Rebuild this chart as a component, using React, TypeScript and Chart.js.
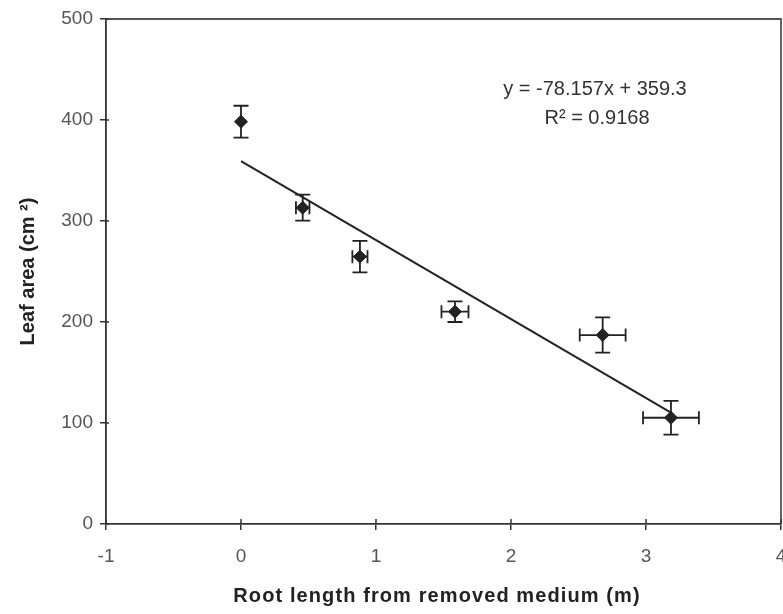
import React, { useEffect, useRef } from 'react';
import { Chart, registerables } from 'chart.js';

Chart.register(...registerables);

// ---- Data ----
const rootLength = [0, 0.457, 0.881, 1.585, 2.679, 3.185];
const leafArea = [398.3, 313.2, 264.7, 210.2, 187.1, 105.2];
const rootLengthErr = [0, 0.05, 0.056, 0.1, 0.17, 0.207];
const leafAreaErr = [15.8, 12.9, 15.6, 10.2, 17.5, 16.8];
const slope = -78.157;
const intercept = 359.3;
const rSquared = 0.9168;
const xTickValues = [-1, 0, 1, 2, 3, 4];
const xTickLabels = ['-1', '0', '1', '2', '3', '4'];
const yTickValues = [0, 100, 200, 300, 400, 500];
const xTitle = 'Root length from removed medium (m)';
const yTitle = 'Leaf area (cm \u00B2)';
const equationText = 'y = -78.157x + 359.3';
const rSquaredText = 'R\u00B2 = ' + rSquared.toFixed(4);

const FONT = '"Liberation Sans", Arial, Helvetica, sans-serif';
const INK = '#222';
const TICK_COLOR = '#555';

const errorBarPlugin = {
  id: 'errorBars',
  beforeDatasetsDraw(chart: any) {
    const { ctx, scales } = chart;
    const xs = scales.x;
    const ys = scales.y;
    ctx.save();
    ctx.strokeStyle = INK;
    ctx.lineWidth = 1.8;
    rootLength.forEach((xv, i) => {
      const px = xs.getPixelForValue(xv);
      const py = ys.getPixelForValue(leafArea[i]);
      const yErr = leafAreaErr[i];
      const xErr = rootLengthErr[i];
      if (yErr > 0) {
        const top = ys.getPixelForValue(leafArea[i] + yErr);
        const bot = ys.getPixelForValue(leafArea[i] - yErr);
        ctx.beginPath();
        ctx.moveTo(px, top);
        ctx.lineTo(px, bot);
        ctx.moveTo(px - 7.5, top);
        ctx.lineTo(px + 7.5, top);
        ctx.moveTo(px - 7.5, bot);
        ctx.lineTo(px + 7.5, bot);
        ctx.stroke();
      }
      if (xErr > 0) {
        const l = xs.getPixelForValue(xv - xErr);
        const r = xs.getPixelForValue(xv + xErr);
        ctx.beginPath();
        ctx.moveTo(l, py);
        ctx.lineTo(r, py);
        ctx.moveTo(l, py - 6.5);
        ctx.lineTo(l, py + 6.5);
        ctx.moveTo(r, py - 6.5);
        ctx.lineTo(r, py + 6.5);
        ctx.stroke();
      }
    });
    ctx.restore();
  },
};

const framePlugin = {
  id: 'frame',
  afterDraw(chart: any) {
    const { ctx, chartArea, scales } = chart;
    ctx.save();
    // top and right frame
    ctx.strokeStyle = '#555';
    ctx.lineWidth = 1.8;
    ctx.beginPath();
    ctx.moveTo(chartArea.left, chartArea.top);
    ctx.lineTo(chartArea.right, chartArea.top);
    ctx.lineTo(chartArea.right, chartArea.bottom);
    ctx.stroke();
    // inward halves of tick marks
    ctx.strokeStyle = '#333';
    ctx.lineWidth = 1.5;
    ctx.beginPath();
    yTickValues.forEach((v) => {
      const py = scales.y.getPixelForValue(v);
      ctx.moveTo(chartArea.left, py);
      ctx.lineTo(chartArea.left + 3, py);
    });
    xTickValues.forEach((v) => {
      const px = scales.x.getPixelForValue(v);
      ctx.moveTo(px, chartArea.bottom);
      ctx.lineTo(px, chartArea.bottom - 5);
    });
    ctx.stroke();
    // x tick labels (drawn here so the last label may be clipped at the edge, as in the original)
    ctx.fillStyle = TICK_COLOR;
    ctx.font = '19px ' + FONT;
    ctx.textAlign = 'center';
    ctx.textBaseline = 'middle';
    xTickValues.forEach((v, i) => {
      ctx.fillText(xTickLabels[i], scales.x.getPixelForValue(v), chartArea.bottom + 33);
    });
    // regression equation
    ctx.fillStyle = '#333';
    ctx.font = '20px ' + FONT;
    ctx.fillText(equationText, 595, 89);
    ctx.fillText(rSquaredText, 597, 118);
    // x axis title (letter-spaced, as in the original)
    ctx.fillStyle = INK;
    ctx.font = 'bold 20px ' + FONT;
    (ctx as any).letterSpacing = '1.1px';
    ctx.fillText(xTitle, 437, 596);
    (ctx as any).letterSpacing = '0px';
    ctx.restore();
  },
};

export default function App() {
  const canvasRef = useRef<HTMLCanvasElement | null>(null);

  useEffect(() => {
    document.body.style.margin = '0';
    const canvas = canvasRef.current;
    if (!canvas) return;
    const xMax = Math.max(...rootLength);
    const trend = [
      { x: 0, y: intercept },
      { x: xMax, y: slope * xMax + intercept },
    ];
    const points = rootLength.map((x, i) => ({ x, y: leafArea[i] }));

    const chart = new Chart(canvas, {
      type: 'scatter',
      data: {
        datasets: [
          {
            type: 'line',
            data: trend,
            borderColor: INK,
            borderWidth: 2,
            pointRadius: 0,
            fill: false,
            order: 2,
          } as any,
          {
            data: points,
            pointStyle: 'rectRot',
            pointRadius: 6.5,
            pointBackgroundColor: INK,
            pointBorderColor: INK,
            pointBorderWidth: 1,
            order: 1,
          },
        ],
      },
      options: {
        animation: false,
        responsive: true,
        maintainAspectRatio: false,
        layout: { padding: { top: 19, right: 2, left: 0, bottom: 0 }, autoPadding: false },
        plugins: {
          legend: { display: false },
          tooltip: { enabled: false },
        },
        scales: {
          x: {
            type: 'linear',
            min: -1,
            max: 4,
            afterBuildTicks: (scale: any) => {
              scale.ticks = xTickValues.map((v) => ({ value: v }));
            },
            afterFit: (scale: any) => {
              scale.height = 90;
              scale.paddingLeft = 0;
              scale.paddingRight = 0;
            },
            ticks: { display: false },
            grid: {
              drawOnChartArea: false,
              drawTicks: true,
              tickLength: 6,
              color: '#333',
              lineWidth: 1.5,
            },
            border: { display: true, color: '#333', width: 1.8 },
            title: { display: false },
          },
          y: {
            type: 'linear',
            min: 0,
            max: 500,
            afterBuildTicks: (scale: any) => {
              scale.ticks = yTickValues.map((v) => ({ value: v }));
            },
            afterFit: (scale: any) => {
              scale.width = 106;
              scale.paddingTop = 0;
              scale.paddingBottom = 0;
            },
            ticks: {
              color: TICK_COLOR,
              font: { family: FONT, size: 19 },
              padding: 7,
              callback: (v: any) => String(v),
            },
            grid: {
              drawOnChartArea: false,
              drawTicks: true,
              tickLength: 6,
              color: '#333',
              lineWidth: 1.5,
            },
            border: { display: true, color: '#333', width: 1.8 },
            title: {
              display: true,
              text: yTitle,
              color: INK,
              font: { family: FONT, size: 20, weight: 'bold' },
              padding: { top: 16, bottom: 0 },
            },
          },
        },
      },
      plugins: [errorBarPlugin, framePlugin],
    });

    return () => chart.destroy();
  }, []);

  return (
    <div
      style={{
        position: 'fixed',
        left: 0,
        top: 0,
        width: 783,
        height: 614,
        background: '#fff',
      }}
    >
      <canvas ref={canvasRef} />
    </div>
  );
}
